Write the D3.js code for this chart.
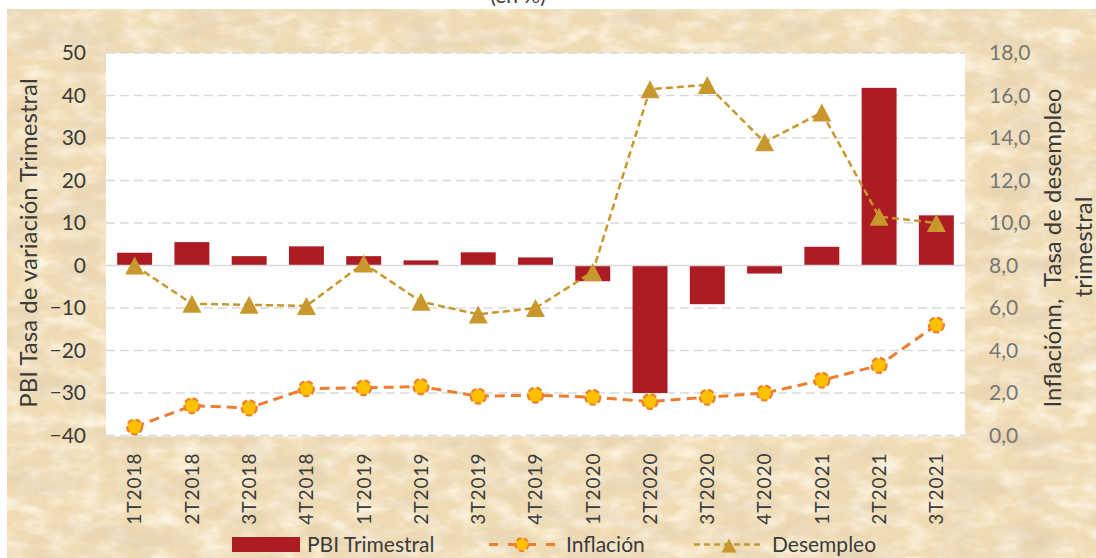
<!DOCTYPE html>
<html>
<head>
<meta charset="utf-8">
<script src="https://cdn.jsdelivr.net/npm/d3@7"></script>
<style>
  html, body { margin: 0; padding: 0; background: #ffffff; }
  svg { display: block; }
  text { font-family: Lato, "Open Sans", sans-serif; }
</style>
</head>
<body>
<svg id="chart" width="1096" height="558"></svg>
<script>
// ---- Data ----
const categories = ["1T2018","2T2018","3T2018","4T2018","1T2019","2T2019","3T2019","4T2019",
                    "1T2020","2T2020","3T2020","4T2020","1T2021","2T2021","3T2021"];
const pbiTrimestral = [3.0, 5.5, 2.2, 4.5, 2.2, 1.2, 3.1, 1.9, -3.7, -30.0, -9.1, -1.9, 4.4, 41.8, 11.8];
const inflacion     = [0.4, 1.4, 1.3, 2.2, 2.25, 2.3, 1.85, 1.9, 1.8, 1.6, 1.8, 2.0, 2.6, 3.3, 5.2];
const desempleo     = [8.0, 6.2, 6.15, 6.1, 8.1, 6.3, 5.7, 6.0, 7.7, 16.3, 16.5, 13.8, 15.2, 10.3, 10.0];
const leftTicks  = [-40, -30, -20, -10, 0, 10, 20, 30, 40, 50];
const rightTicks = [0, 2, 4, 6, 8, 10, 12, 14, 16, 18];
const seriesNames = ["PBI Trimestral", "Inflación", "Desempleo"];
const titleText = "(en %)";
const leftTitle = "PBI Tasa de variación Trimestral";
const rightTitle1 = "Inflaciónn,  Tasa de desempleo";
const rightTitle2 = "trimestral";

// ---- Layout ----
const W = 1096, H = 558;
const plot = { left: 106, right: 965, top: 53, bottom: 435.5 };
const C = {
  bar: "#AD1C23", infLine: "#ED7D31", infFill: "#FFC000",
  des: "#C8982C", grid: "#D9D9D9", dark: "#3b3b3b", gray: "#777777"
};

const svg = d3.select("#chart");

// parchment texture
const defs = svg.append("defs");
const f = defs.append("filter").attr("id", "paper")
  .attr("x", 0).attr("y", 0).attr("width", "100%").attr("height", "100%");
f.append("feTurbulence").attr("type", "fractalNoise")
  .attr("baseFrequency", "0.018 0.04").attr("numOctaves", 5).attr("seed", 11).attr("result", "n");
f.append("feColorMatrix").attr("in", "n").attr("type", "matrix")
  .attr("values", "0 0 0 0 0.76  0 0 0 0 0.63  0 0 0 0 0.44  1.5 0 0 0 -0.6");
const f2 = defs.append("filter").attr("id", "paper2")
  .attr("x", 0).attr("y", 0).attr("width", "100%").attr("height", "100%");
f2.append("feTurbulence").attr("type", "fractalNoise")
  .attr("baseFrequency", "0.04 0.07").attr("numOctaves", 4).attr("seed", 23).attr("result", "n");
f2.append("feColorMatrix").attr("in", "n").attr("type", "matrix")
  .attr("values", "0 0 0 0 1  0 0 0 0 0.96  0 0 0 0 0.86  1.6 0 0 0 -0.6");

svg.append("rect").attr("x", 7).attr("y", 9).attr("width", W - 7).attr("height", H - 9)
  .attr("fill", "#F0DCB4");
svg.append("rect").attr("x", 7).attr("y", 9).attr("width", W - 7).attr("height", H - 9)
  .attr("filter", "url(#paper2)");
svg.append("rect").attr("x", 7).attr("y", 9).attr("width", W - 7).attr("height", H - 9)
  .attr("filter", "url(#paper)");

// title (partly above the top edge, as in the reference)
svg.append("text").attr("x", 518).attr("y", 3).attr("text-anchor", "middle")
  .attr("font-size", 21).attr("fill", C.dark).text(titleText);

// plot area
svg.append("rect").attr("x", plot.left).attr("y", plot.top)
  .attr("width", plot.right - plot.left).attr("height", plot.bottom - plot.top + 1)
  .attr("fill", "#ffffff");

// ---- Scales ----
const pad = 0.39;
const x = d3.scaleBand().domain(categories).range([plot.left, plot.right])
  .paddingInner(pad).paddingOuter(pad / 2);
const yL = d3.scaleLinear().domain([-40, 50]).range([plot.bottom, plot.top]);
const yR = d3.scaleLinear().domain([0, 18]).range([plot.bottom, plot.top]);
const cx = d => x(d) + x.bandwidth() / 2;

// gridlines
svg.append("g").selectAll("line").data(leftTicks.filter(t => t !== 0)).join("line")
  .attr("x1", plot.left).attr("x2", plot.right)
  .attr("y1", d => yL(d)).attr("y2", d => yL(d))
  .attr("stroke", C.grid).attr("stroke-width", 1.4).attr("stroke-dasharray", "9,5");

// bars
svg.append("g").selectAll("rect").data(categories).join("rect")
  .attr("x", d => x(d)).attr("width", x.bandwidth())
  .attr("y", (d, i) => yL(Math.max(0, pbiTrimestral[i])))
  .attr("height", (d, i) => Math.abs(yL(pbiTrimestral[i]) - yL(0)))
  .attr("fill", C.bar);

// zero line
svg.append("line").attr("x1", plot.left).attr("x2", plot.right)
  .attr("y1", yL(0)).attr("y2", yL(0)).attr("stroke", C.grid).attr("stroke-width", 1.6);

// left axis labels
const leftAxis = d3.axisLeft(yL).tickValues(leftTicks).tickSize(0).tickPadding(0);
const gL = svg.append("g").attr("transform", "translate(86,0)").call(leftAxis);
gL.select(".domain").remove();
gL.selectAll("text").attr("font-size", 21).attr("fill", C.dark)
  .attr("font-family", "Lato, sans-serif");

// right axis labels
const commaFmt = d3.formatLocale({ decimal: ",", thousands: ".", grouping: [3], currency: ["", ""] }).format(".1f");
const rightAxis = d3.axisRight(yR).tickValues(rightTicks).tickSize(0).tickPadding(0).tickFormat(commaFmt);
const gR = svg.append("g").attr("transform", "translate(989,0)").call(rightAxis);
gR.select(".domain").remove();
gR.selectAll("text").attr("font-size", 21).attr("fill", C.gray)
  .attr("font-family", "Lato, sans-serif");

// x axis labels
const xAxis = d3.axisBottom(x).tickSize(0).tickPadding(0);
const gX = svg.append("g").attr("transform", `translate(0,${plot.bottom})`).call(xAxis);
gX.select(".domain").remove();
gX.selectAll("text")
  .attr("font-size", 19).attr("fill", C.dark).attr("font-family", "Lato, sans-serif")
  .attr("letter-spacing", 1)
  .attr("text-anchor", "end")
  .attr("transform", "rotate(-90)")
  .attr("x", -17).attr("y", 0).attr("dy", "0.36em");

// Desempleo line
const lineDes = d3.line().x((d, i) => cx(categories[i])).y(d => yR(d));
svg.append("path").datum(desempleo).attr("d", lineDes)
  .attr("fill", "none").attr("stroke", C.des).attr("stroke-width", 2.5)
  .attr("stroke-dasharray", "7,4");
const tri = (w, h) => `M0,${-h/2}L${w/2},${h/2}L${-w/2},${h/2}Z`;
svg.append("g").selectAll("path").data(desempleo).join("path")
  .attr("transform", (d, i) => `translate(${cx(categories[i])},${yR(d)})`)
  .attr("d", tri(19, 18)).attr("fill", C.des);

// Inflación line
const lineInf = d3.line().x((d, i) => cx(categories[i])).y(d => yR(d));
svg.append("path").datum(inflacion).attr("d", lineInf)
  .attr("fill", "none").attr("stroke", C.infLine).attr("stroke-width", 3)
  .attr("stroke-dasharray", "10,6");
svg.append("g").selectAll("circle").data(inflacion).join("circle")
  .attr("cx", (d, i) => cx(categories[i])).attr("cy", d => yR(d)).attr("r", 7.5)
  .attr("fill", C.infFill).attr("stroke", C.infLine).attr("stroke-width", 2.2)
  .attr("stroke-dasharray", "6,3");

// axis titles
svg.append("text").attr("transform", `translate(28,243) rotate(-90)`)
  .attr("text-anchor", "middle").attr("dy", "0.36em")
  .attr("font-size", 24).attr("fill", C.dark).text(leftTitle);
svg.append("text").attr("transform", `translate(1052,248) rotate(-90)`)
  .attr("text-anchor", "middle").attr("dy", "0.36em").attr("xml:space", "preserve")
  .style("white-space", "pre")
  .attr("font-size", 24).attr("fill", C.dark).text(rightTitle1);
svg.append("text").attr("transform", `translate(1083,247) rotate(-90)`)
  .attr("text-anchor", "middle").attr("dy", "0.36em")
  .attr("font-size", 24).attr("fill", C.dark).text(rightTitle2);

// legend
const lg = svg.append("g");
const ly = 544.5;
lg.append("rect").attr("x", 232).attr("y", 537).attr("width", 68).attr("height", 15).attr("fill", C.bar);
lg.append("text").attr("x", 307).attr("y", 552).attr("font-size", 21).attr("fill", C.dark).text(seriesNames[0]);
lg.append("line").attr("x1", 489).attr("x2", 557).attr("y1", ly).attr("y2", ly)
  .attr("stroke", C.infLine).attr("stroke-width", 3).attr("stroke-dasharray", "9,10");
lg.append("circle").attr("cx", 522).attr("cy", ly).attr("r", 6.5)
  .attr("fill", C.infFill).attr("stroke", C.infLine).attr("stroke-width", 2).attr("stroke-dasharray", "5,3");
lg.append("text").attr("x", 566).attr("y", 552).attr("font-size", 21).attr("fill", C.dark).text(seriesNames[1]);
lg.append("line").attr("x1", 694).attr("x2", 764).attr("y1", ly).attr("y2", ly)
  .attr("stroke", C.des).attr("stroke-width", 2.5).attr("stroke-dasharray", "6,4");
lg.append("path").attr("transform", `translate(729,${ly + 1})`).attr("d", tri(15, 14)).attr("fill", C.des);
lg.append("text").attr("x", 772).attr("y", 552).attr("font-size", 21).attr("fill", C.dark).text(seriesNames[2]);
</script>
</body>
</html>
